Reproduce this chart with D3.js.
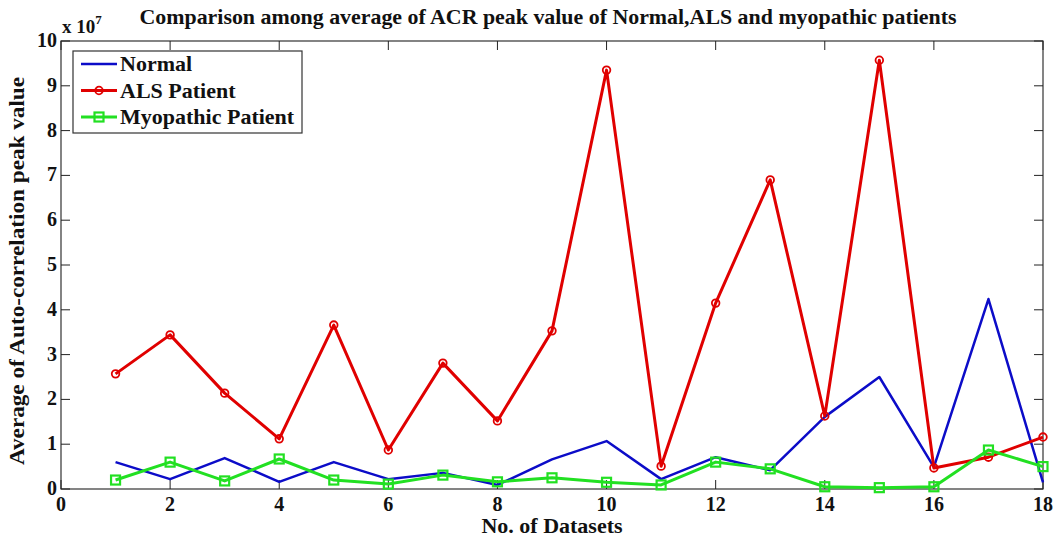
<!DOCTYPE html>
<html>
<head>
<meta charset="utf-8">
<script src="https://cdn.jsdelivr.net/npm/d3@7"></script>
<style>
  body { margin: 0; background: #fff; }
  svg text { font-family: "Liberation Serif", "Times New Roman", Times, "DejaVu Serif", serif; font-weight: 700; fill: #111; }
</style>
</head>
<body>
<svg id="chart" width="1059" height="540"></svg>
<script>
// values in units of 1e7
const datasets = d3.range(1, 19);
const normal = [0.60, 0.22, 0.69, 0.16, 0.60, 0.22, 0.36, 0.09, 0.66, 1.07, 0.22, 0.71, 0.42, 1.61, 2.50, 0.49, 4.24, 0.15];
const als = [2.57, 3.44, 2.14, 1.12, 3.66, 0.87, 2.81, 1.52, 3.53, 9.35, 0.51, 4.15, 6.90, 1.63, 9.57, 0.47, 0.71, 1.16];
const myopathic = [0.20, 0.60, 0.18, 0.67, 0.20, 0.11, 0.31, 0.16, 0.25, 0.15, 0.09, 0.60, 0.45, 0.05, 0.03, 0.05, 0.87, 0.50];
const xTicks = [0, 2, 4, 6, 8, 10, 12, 14, 16, 18];
const yTicks = [0, 1, 2, 3, 4, 5, 6, 7, 8, 9, 10];

const series = [
  { name: "Normal", values: normal, color: "#0c0cc8", width: 2.5, marker: "none" },
  { name: "ALS Patient", values: als, color: "#e00000", width: 3, marker: "circle" },
  { name: "Myopathic Patient", values: myopathic, color: "#22e022", width: 3, marker: "square" },
];

const svg = d3.select("#chart");
const plot = { left: 61, right: 1043, top: 41, bottom: 489 };

const x = d3.scaleLinear().domain([0, 18]).range([plot.left, plot.right]);
const y = d3.scaleLinear().domain([0, 10]).range([plot.bottom, plot.top]);

// axes box
svg.append("rect")
  .attr("x", plot.left).attr("y", plot.top)
  .attr("width", plot.right - plot.left).attr("height", plot.bottom - plot.top)
  .attr("fill", "none").attr("stroke", "#333").attr("stroke-width", 1.2);

// inward ticks on all sides
const tickG = svg.append("g").attr("stroke", "#222").attr("stroke-width", 1);
xTicks.forEach((t) => {
  tickG.append("line").attr("x1", x(t)).attr("x2", x(t)).attr("y1", plot.bottom).attr("y2", plot.bottom - 9);
  tickG.append("line").attr("x1", x(t)).attr("x2", x(t)).attr("y1", plot.top).attr("y2", plot.top + 9);
});
yTicks.forEach((t) => {
  tickG.append("line").attr("x1", plot.left).attr("x2", plot.left + 9).attr("y1", y(t)).attr("y2", y(t));
  tickG.append("line").attr("x1", plot.right).attr("x2", plot.right - 9).attr("y1", y(t)).attr("y2", y(t));
});

svg.append("g").selectAll("text")
  .data(xTicks).enter().append("text")
  .attr("x", (d) => x(d)).attr("y", plot.bottom + 22)
  .attr("text-anchor", "middle").attr("font-size", 20)
  .text((d) => d);

svg.append("g").selectAll("text")
  .data(yTicks).enter().append("text")
  .attr("x", plot.left - 4).attr("y", (d) => y(d) + 6)
  .attr("text-anchor", "end").attr("font-size", 20)
  .text((d) => d);

// exponent
const ex = svg.append("text").attr("x", 62).attr("y", 33).attr("font-size", 19);
ex.append("tspan").text("x 10");
ex.append("tspan").attr("dy", -9).attr("font-size", 13).text("7");

// title + axis labels
svg.append("text")
  .attr("x", 548).attr("y", 24)
  .attr("text-anchor", "middle").attr("font-size", 22)
  .attr("textLength", 817).attr("lengthAdjust", "spacingAndGlyphs")
  .text("Comparison among average of ACR peak value of Normal,ALS and myopathic patients");

svg.append("text")
  .attr("x", 552).attr("y", 533)
  .attr("text-anchor", "middle").attr("font-size", 22)
  .text("No. of Datasets");

svg.append("text")
  .attr("transform", "translate(24, 271) rotate(-90)")
  .attr("text-anchor", "middle").attr("font-size", 22)
  .attr("textLength", 388).attr("lengthAdjust", "spacingAndGlyphs")
  .text("Average of Auto-correlation peak value");

// lines
const line = d3.line().x((d, i) => x(datasets[i])).y((d) => y(d));

series.forEach((s) => {
  svg.append("path")
    .datum(s.values)
    .attr("d", line)
    .attr("fill", "none")
    .attr("stroke", s.color)
    .attr("stroke-width", s.width)
    .attr("stroke-linejoin", "round");

  if (s.marker === "circle") {
    svg.append("g").selectAll("circle")
      .data(s.values).enter().append("circle")
      .attr("cx", (d, i) => x(datasets[i])).attr("cy", (d) => y(d))
      .attr("r", 3.8)
      .attr("fill", "none").attr("stroke", s.color).attr("stroke-width", 1.8);
  } else if (s.marker === "square") {
    svg.append("g").selectAll("rect")
      .data(s.values).enter().append("rect")
      .attr("x", (d, i) => x(datasets[i]) - 4.5).attr("y", (d) => y(d) - 4.5)
      .attr("width", 9).attr("height", 9)
      .attr("fill", "none").attr("stroke", s.color).attr("stroke-width", 2.2);
  }
});

// legend
const legend = svg.append("g");
legend.append("rect")
  .attr("x", 73).attr("y", 51).attr("width", 229).attr("height", 82)
  .attr("fill", "#fff").attr("stroke", "#333").attr("stroke-width", 1.2);

const legendG = legend.selectAll(".legend")
  .data(series).enter().append("g")
  .attr("class", "legend")
  .attr("transform", (d, i) => `translate(0, ${64 + i * 26.5})`);

legendG.append("line")
  .attr("x1", 81).attr("x2", 117).attr("y1", 0).attr("y2", 0)
  .attr("stroke", (d) => d.color).attr("stroke-width", (d) => d.width);

legendG.filter((d) => d.marker === "circle").append("circle")
  .attr("cx", 99).attr("cy", 0).attr("r", 3.8)
  .attr("fill", "none").attr("stroke", (d) => d.color).attr("stroke-width", 1.8);

legendG.filter((d) => d.marker === "square").append("rect")
  .attr("x", 94.5).attr("y", -4.5).attr("width", 9).attr("height", 9)
  .attr("fill", "none").attr("stroke", (d) => d.color).attr("stroke-width", 2.2);

legendG.append("text")
  .attr("x", 120).attr("y", 7).attr("font-size", 22)
  .text((d) => d.name);
</script>
</body>
</html>
